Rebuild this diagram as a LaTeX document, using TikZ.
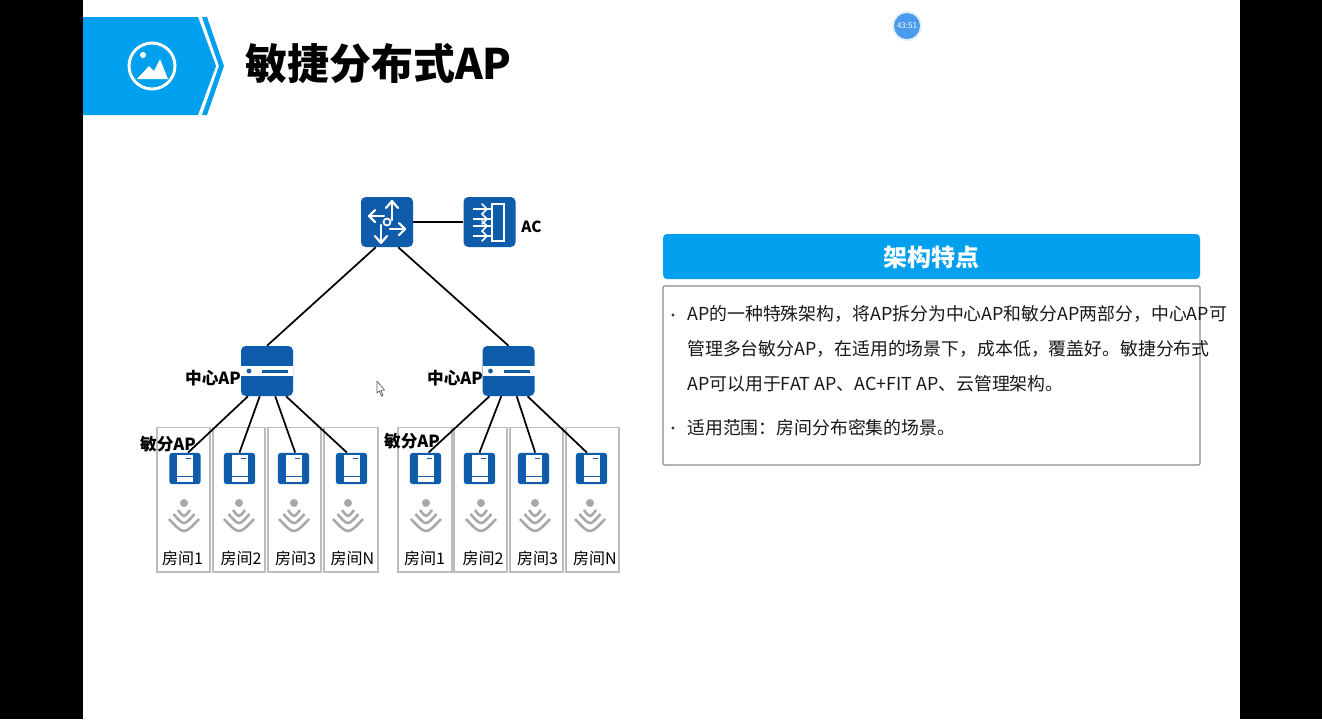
\documentclass[tikz,border=0pt]{standalone}
\usepackage{fontspec}
\setmainfont{Noto Sans CJK SC}
\definecolor{sky}{HTML}{00A0EE}
\definecolor{navy}{HTML}{0F5CAB}
\definecolor{roomline}{HTML}{BDBDBD}
\definecolor{wave}{HTML}{A8A8A8}
\definecolor{timer}{HTML}{4A9BEB}
\newcommand{\fs}[1]{\fontsize{#1}{#1}\selectfont}
\tikzset{
  bigicon/.style={fill=navy,rounded corners=3.5pt,minimum width=39pt,minimum height=37.5pt,inner sep=0pt},
  smallap/.style={fill=navy,rounded corners=2.2pt,minimum width=23.5pt,minimum height=23.5pt,inner sep=0pt},
  roombox/.style={draw=roomline,line width=1pt,fill=white,minimum width=40pt,minimum height=108.5pt,inner sep=0pt},
  lbl/.style={inner sep=0pt,text=black},
  wire/.style={draw=black,line width=1.3pt},
  whiteline/.style={draw=white,line width=1.6pt,line cap=round,line join=round},
  bodytext/.style={inner sep=0pt,anchor=west,text=black!90,font=\fs{13.4}}
}
\newcommand{\midap}[1]{%
  \begin{scope}[shift={(#1)}]
    \fill[white] (-26,-5) rectangle (26,5);
    \fill[navy] (-18,0) circle (2.4);
    \fill[navy] (-5,-1.5) rectangle (21,1.5);
  \end{scope}}
\newcommand{\thinap}[1]{%
  \begin{scope}[shift={(#1)}]
    \fill[white] (-8,-13.5) rectangle (8,13.5);
    \fill[navy] (-8,7.2) rectangle (8,8.2);
    \fill[navy] (1,-11) rectangle (6,-10);
  \end{scope}}
\newcommand{\wifi}[1]{%
  \begin{scope}[shift={(#1,0)}]
    \fill[wave] (0,503) circle (4);
    \draw[wave,line width=1.9pt] (-6,510) .. controls (0,518) .. (6,510);
    \draw[wave,line width=1.9pt] (-10.5,514) .. controls (0,526) .. (10.5,514);
    \draw[wave,line width=1.9pt] (-15,519) .. controls (0,535) .. (15,519);
  \end{scope}}
\begin{document}
\begin{tikzpicture}[x=0.75pt,y=-0.75pt]
\useasboundingbox (0,0) rectangle (1322,719);
\fill[white] (0,0) rectangle (1322,719);
\fill[black] (0,0) rectangle (83,719);
\fill[black] (1240,0) rectangle (1322,719);
% banner
\fill[sky] (83,17) -- (198,17) -- (216,66) -- (198,115) -- (83,115) -- cycle;
\fill[sky] (202,17) -- (207,17) -- (224,66) -- (207,115) -- (202,115) -- (219,66) -- cycle;
\draw[white,line width=2.2pt] (152,66) circle (23);
\fill[white] (143,55) circle (3);
\fill[white] (137,79) -- (149,66) -- (154,71) -- (160,59) -- (168,79) -- cycle;
\node[lbl,anchor=west,font=\fs{31.5}\bfseries] (title) at (245,64) {敏捷分布式AP};
% timer
\fill[white!85!timer] (907,26) circle (15);
\fill[timer] (907,26) circle (13);
\node[lbl,text=white,font=\fs{6}] (clock) at (907,26) {43:51};
% rooms
\foreach \n/\x/\w in {l1/183.5/53,l2/239/52,l3/294.5/53,l4/351/54,r1/425/54,r2/480.5/53,r3/536.5/53,r4/592.5/53}{
  \node[roombox,minimum width=\w*0.75pt] (room\n) at (\x,499.5) {};
}
% top devices
\node[bigicon] (core) at (387,222) {};
\node[bigicon] (ac) at (489.5,222) {};
\node[bigicon] (cl) at (267,371) {};
\node[bigicon] (cr) at (508.5,371) {};
\foreach \n/\x in {l1/185,l2/239.5,l3/293.5,l4/351.5,r1/425.5,r2/479.5,r3/533.5,r4/591.5}{
  \node[smallap] (ap\n) at (\x,468.5) {};
  \thinap{\x,468.5}
}
% connectors
\draw[wire] (core) -- (ac);
\draw[wire] (core.-114) -- (cl.north);
\draw[wire] (core.-66) -- (cr.north);
\draw[wire] (cl.-127) -- (apl1.79);
\draw[wire] (cl.-106) -- (apl2.90);
\draw[wire] (cl.-72) -- (apl3.84);
\draw[wire] (cl.-53) -- (apl4.106);
\draw[wire] (cr.-127) -- (apr1.79);
\draw[wire] (cr.-106) -- (apr2.90);
\draw[wire] (cr.-72) -- (apr3.84);
\draw[wire] (cr.-53) -- (apr4.106);
% router icon
\begin{scope}
  \draw[whiteline] (392,220) -- (392,201);
  \draw[whiteline] (386,208) -- (392,201) -- (398,208);
  \draw[whiteline] (384,216) -- (369,216);
  \draw[whiteline] (375,210) -- (369,216) -- (375,222);
  \draw[whiteline] (390,229) -- (405,229);
  \draw[whiteline] (399,223) -- (405,229) -- (399,235);
  \draw[whiteline] (381,225) -- (381,243);
  \draw[whiteline] (375,236) -- (381,243) -- (387,236);
  \draw[white,line width=1.3pt] (387,222) circle (3.5);
\end{scope}
% ac icon
\draw[white,line width=1.5pt] (492,203.5) rectangle (504,241);
\foreach \y in {209,219,226,236}{
  \draw[white,line width=1.4pt] (473,\y) -- (492,\y);
}
\draw[whiteline,line width=1.1pt] (482,204) -- (487,209) -- (482,214);
\draw[whiteline,line width=1.1pt] (482,214) -- (487,219) -- (482,224);
\draw[whiteline,line width=1.1pt] (482,221) -- (487,226) -- (482,231);
\draw[whiteline,line width=1.1pt] (482,231) -- (487,236) -- (482,241);
\midap{267,371}
\midap{508.5,371}
% wifi
\foreach \x in {184,239,294,348,426,481,535,590}{\wifi{\x}}
% labels
\node[lbl,font=\fs{11.5}\bfseries] (aclabel) at (531.5,227) {AC};
\node[lbl,font=\fs{12.5}\bfseries] (midl) at (213,378) {中心AP};
\node[lbl,font=\fs{12.5}\bfseries] (midr) at (455,378) {中心AP};
\node[lbl,font=\fs{12.5}\bfseries] (thinl) at (168,444) {敏分AP};
\node[lbl,font=\fs{12.5}\bfseries] (thinr) at (412,441) {敏分AP};
\foreach \n/\x/\t in {a/182.5/房间1,b/241/房间2,c/295.5/房间3,d/352.5/房间N,e/424.5/房间1,f/483/房间2,g/537.5/房间3,h/595/房间N}{
  \node[lbl,font=\fs{12}] (rl\n) at (\x,558) {\t};
}
% cursor
\draw[black!65,fill=white,line width=0.5pt,line join=round] (377,381) -- (377,393) -- (379.5,391) -- (381.5,396) -- (383,395.5) -- (381,390.5) -- (384.5,390) -- cycle;
% panel
\node[fill=sky,rounded corners=3pt,minimum width=402.75pt,minimum height=33.75pt,inner sep=0pt] (head) at (931.5,256.5) {};
\node[lbl,text=white,font=\fs{18}\bfseries] (headtxt) at (931.5,257) {架构特点};
\node[draw=black!45,fill=white,line width=0.9pt,rounded corners=1pt,minimum width=402.75pt,minimum height=134.25pt,inner sep=0pt] (panel) at (931.5,375.5) {};
\fill[black!80] (673,315) circle (1.6);
\fill[black!80] (673,428) circle (1.6);
\node[bodytext] (t1) at (687,314) {AP的一种特殊架构，将AP拆分为中心AP和敏分AP两部分，中心AP可};
\node[bodytext] (t2) at (687,349) {管理多台敏分AP，在适用的场景下，成本低，覆盖好。敏捷分布式};
\node[bodytext] (t3) at (687,384) {AP可以用于FAT AP、AC+FIT AP、云管理架构。};
\node[bodytext] (t4) at (687,428) {适用范围：房间分布密集的场景。};
\end{tikzpicture}
\end{document}
